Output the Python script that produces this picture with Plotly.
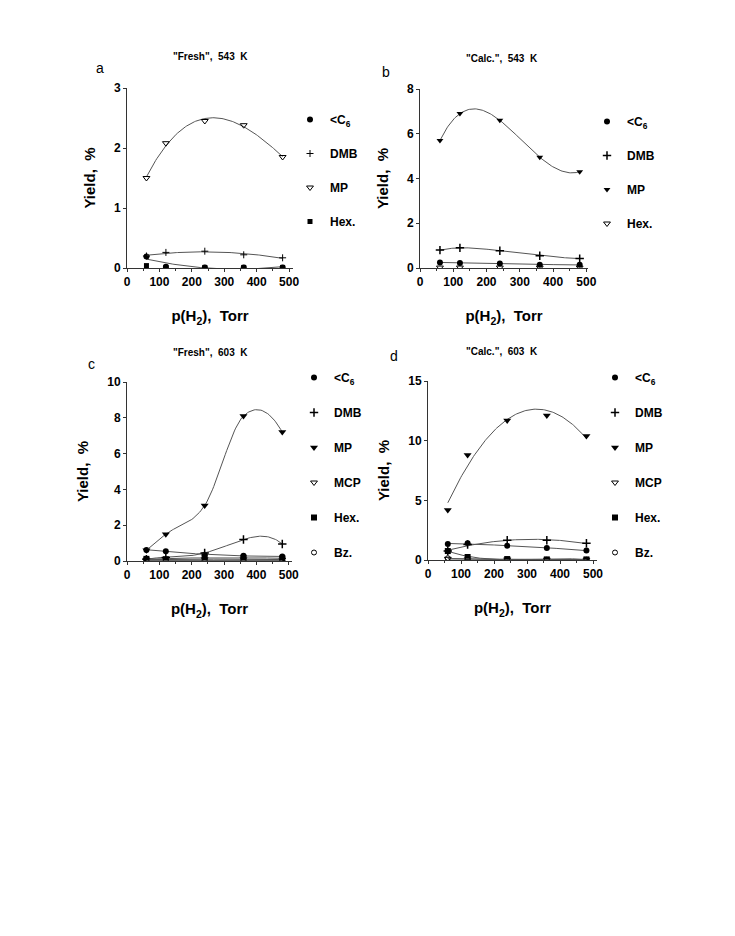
import numpy as np
import plotly.graph_objects as go

# ---------------- data ----------------
x_h2 = [60, 120, 240, 360, 480]
x_ticks = [0, 100, 200, 300, 400, 500]

a_c6 = [0.19, 0.02, 0.01, 0.01, 0.01]
a_dmb = [0.20, 0.26, 0.28, 0.22, 0.17]
a_mp = [1.50, 2.08, 2.45, 2.38, 1.85]
a_hex = [0.04, 0.01, 0.01, 0.01, 0.01]

b_c6 = [0.25, 0.22, 0.20, 0.15, 0.14]
b_dmb = [0.80, 0.90, 0.77, 0.55, 0.42]
b_mp = [5.70, 6.90, 6.60, 4.95, 4.30]
b_hex = [0.02, 0.02, 0.02, 0.02, 0.02]

c_c6 = [0.62, 0.55, 0.35, 0.30, 0.25]
c_dmb = [0.10, 0.20, 0.45, 1.20, 0.95]
c_mp = [0.60, 1.50, 3.10, 8.10, 7.20]
c_mcp = [0.08, 0.08, 0.10, 0.10, 0.08]
c_hex = [0.12, 0.10, 0.20, 0.18, 0.15]
c_bz = [0.02, 0.02, 0.02, 0.02, 0.02]

d_c6 = [1.35, 1.40, 1.20, 1.00, 0.80]
d_dmb = [0.75, 1.30, 1.65, 1.65, 1.40]
d_mp = [4.20, 8.80, 11.70, 12.10, 10.40]
d_mcp = [0.10, 0.05, 0.05, 0.03, 0.03]
d_hex = [0.75, 0.25, 0.08, 0.05, 0.05]
d_bz = [0.15, 0.05, 0.02, 0.02, 0.02]

titles = ['"Fresh",&nbsp;&nbsp;543&nbsp;&nbsp;K', '"Calc.",&nbsp;&nbsp;543&nbsp;&nbsp;K',
          '"Fresh",&nbsp;&nbsp;603&nbsp;&nbsp;K', '"Calc.",&nbsp;&nbsp;603&nbsp;&nbsp;K']
letters = ["a", "b", "c", "d"]
y_ranges = [[0, 3], [0, 8], [0, 10], [0, 15]]
y_dticks = [1, 2, 2, 5]

C6 = "&lt;C<sub>6</sub>"

# (name, values, symbol, size, line width, curve: polynomial degree, "h" = smooth through points, None)
panels = [
    [(C6, a_c6, "circle", 6, 0, 2), ("DMB", a_dmb, "cross-thin", 5, 1, 2),
     ("MP", a_mp, "triangle-down-open", 6, 1, 3), ("Hex.", a_hex, "square", 5, 0, None)],
    [(C6, b_c6, "circle", 6, 0, 2), ("DMB", b_dmb, "cross-thin", 6, 1.5, 4),
     ("MP", b_mp, "triangle-down", 6, 0, 4), ("Hex.", b_hex, "triangle-down-open", 6, 1, None)],
    [(C6, c_c6, "circle", 6, 0, 2), ("DMB", c_dmb, "cross-thin", 6, 1.5, 4),
     ("MP", c_mp, "triangle-down", 7, 0, "h"), ("MCP", c_mcp, "triangle-down-open", 6, 1, 2),
     ("Hex.", c_hex, "square", 6, 0, 2), ("Bz.", c_bz, "circle-open", 5, 1, 1)],
    [(C6, d_c6, "circle", 6, 0, 2), ("DMB", d_dmb, "cross-thin", 6, 1.5, 2),
     ("MP", d_mp, "triangle-down", 7, 0, 2), ("MCP", d_mcp, "triangle-down-open", 6, 1, 2),
     ("Hex.", d_hex, "square", 6, 0, 3), ("Bz.", d_bz, "circle-open", 5, 1, 2)],
]

# ---------------- layout geometry (reference pixels) ----------------
W, H = 735, 936
OFF = 8   # page body margin
x_dom_px = [(127, 293), (420, 588), (127, 292), (428, 597)]
x_max = [512, 505, 510, 512]
y_dom_px = [(88, 268), (89, 268), (382, 561), (381, 560)]   # (top, bottom)
legend_pos = [(290, 105), (587, 107), (294, 363), (595, 363)]
legend_gap = [15, 15, 16, 16]
title_pos = [(210, 56), (502, 58), (210, 352), (502, 351)]
letter_pos = [(100, 68), (386, 72), (91, 364), (394, 356)]


def px(v):
    return (v - OFF) / W


def py(v):
    return 1 - (v - OFF) / H


def smooth_through(xs, ys, n=30):
    """Cubic Hermite curve through the points (Catmull-Rom style tangents)."""
    xs = np.asarray(xs, float)
    ys = np.asarray(ys, float)
    m = np.zeros_like(ys)
    m[1:-1] = (ys[2:] - ys[:-2]) / (xs[2:] - xs[:-2])
    m[0] = 2 * (ys[1] - ys[0]) / (xs[1] - xs[0]) - m[1]
    m[-1] = 2 * (ys[-1] - ys[-2]) / (xs[-1] - xs[-2]) - m[-2]
    ox, oy = [], []
    for k in range(len(xs) - 1):
        h = xs[k + 1] - xs[k]
        t = np.linspace(0, 1, n, endpoint=(k == len(xs) - 2))
        h00 = 2 * t**3 - 3 * t**2 + 1
        h10 = t**3 - 2 * t**2 + t
        h01 = -2 * t**3 + 3 * t**2
        h11 = t**3 - t**2
        ox.extend(xs[k] + t * h)
        oy.extend(h00 * ys[k] + h10 * h * m[k] + h01 * ys[k + 1] + h11 * h * m[k + 1])
    return ox, oy


FONT = "Liberation Sans, Arial, sans-serif"
LINE_COL = "#555555"

fig = go.Figure()
layout = dict(width=W, height=H, paper_bgcolor="white", plot_bgcolor="white",
              margin=dict(l=0, r=0, t=0, b=0), font=dict(family=FONT, color="black"),
              annotations=[])

for i, series in enumerate(panels):
    ax = "" if i == 0 else str(i + 1)
    xa, ya = "x" + ax, "y" + ax
    leg = "legend" if i == 0 else "legend" + str(i + 1)
    xs = np.array(x_h2, dtype=float)
    xx = np.linspace(60, 480, 120)
    for j, (name, vals, sym, size, lw, deg) in enumerate(series):
        if deg == "h":
            cx, cy = smooth_through(x_h2, vals)
            fig.add_trace(go.Scatter(x=cx, y=cy, mode="lines",
                                     line=dict(color=LINE_COL, width=1),
                                     xaxis=xa, yaxis=ya, showlegend=False, hoverinfo="skip"))
        elif deg is not None:
            coef = np.polyfit(xs, np.array(vals, dtype=float), deg)
            fig.add_trace(go.Scatter(x=xx, y=np.polyval(coef, xx), mode="lines",
                                     line=dict(color=LINE_COL, width=1), xaxis=xa, yaxis=ya,
                                     showlegend=False, hoverinfo="skip"))
        fig.add_trace(go.Scatter(x=x_h2, y=vals, mode="markers", name=name,
                                 marker=dict(symbol=sym, size=size, color="black",
                                             line=dict(color="black", width=lw)),
                                 xaxis=xa, yaxis=ya, legend=leg,
                                 legendgroup=f"p{i}s{j}"))
    x0, x1 = x_dom_px[i]
    yt, yb = y_dom_px[i]
    common = dict(showline=True, linecolor="#333333", linewidth=1, showgrid=False,
                  zeroline=False, ticks="outside", ticklen=3, tickcolor="#333333",
                  tickfont=dict(family=FONT, size=12, weight="bold"), automargin=False)
    layout["xaxis" + ax] = dict(common, domain=[px(x0), px(x1)], range=[0, x_max[i]],
                                tickvals=x_ticks, anchor=ya,
                                minor=dict(dtick=50, ticks="outside", ticklen=2, tickcolor="#333333"),
                                title=dict(text="p(H<sub>2</sub>),&nbsp;&nbsp;Torr", standoff=22,
                                           font=dict(family=FONT, size=15, weight="bold")))
    layout["yaxis" + ax] = dict(common, domain=[py(yb), py(yt)], range=y_ranges[i],
                                dtick=y_dticks[i], anchor=xa,
                                title=dict(text="Yield,&nbsp;&nbsp;%", standoff=14,
                                           font=dict(family=FONT, size=15, weight="bold")))
    lx, ly = legend_pos[i]
    layout[leg] = dict(x=px(lx), y=py(ly), xanchor="left", yanchor="top",
                       bgcolor="rgba(0,0,0,0)", tracegroupgap=legend_gap[i], itemwidth=30,
                       font=dict(family=FONT, size=12, weight="bold"))
    tx, ty = title_pos[i]
    layout["annotations"].append(dict(text=titles[i], x=px(tx), y=py(ty), xref="paper",
                                      yref="paper", xanchor="center", yanchor="middle",
                                      showarrow=False,
                                      font=dict(family=FONT, size=10, weight="bold")))
    lx2, ly2 = letter_pos[i]
    layout["annotations"].append(dict(text=letters[i], x=px(lx2), y=py(ly2), xref="paper",
                                      yref="paper", xanchor="center", yanchor="middle",
                                      showarrow=False, font=dict(family=FONT, size=14)))

fig.update_layout(**layout)
fig.write_html("out.html")
